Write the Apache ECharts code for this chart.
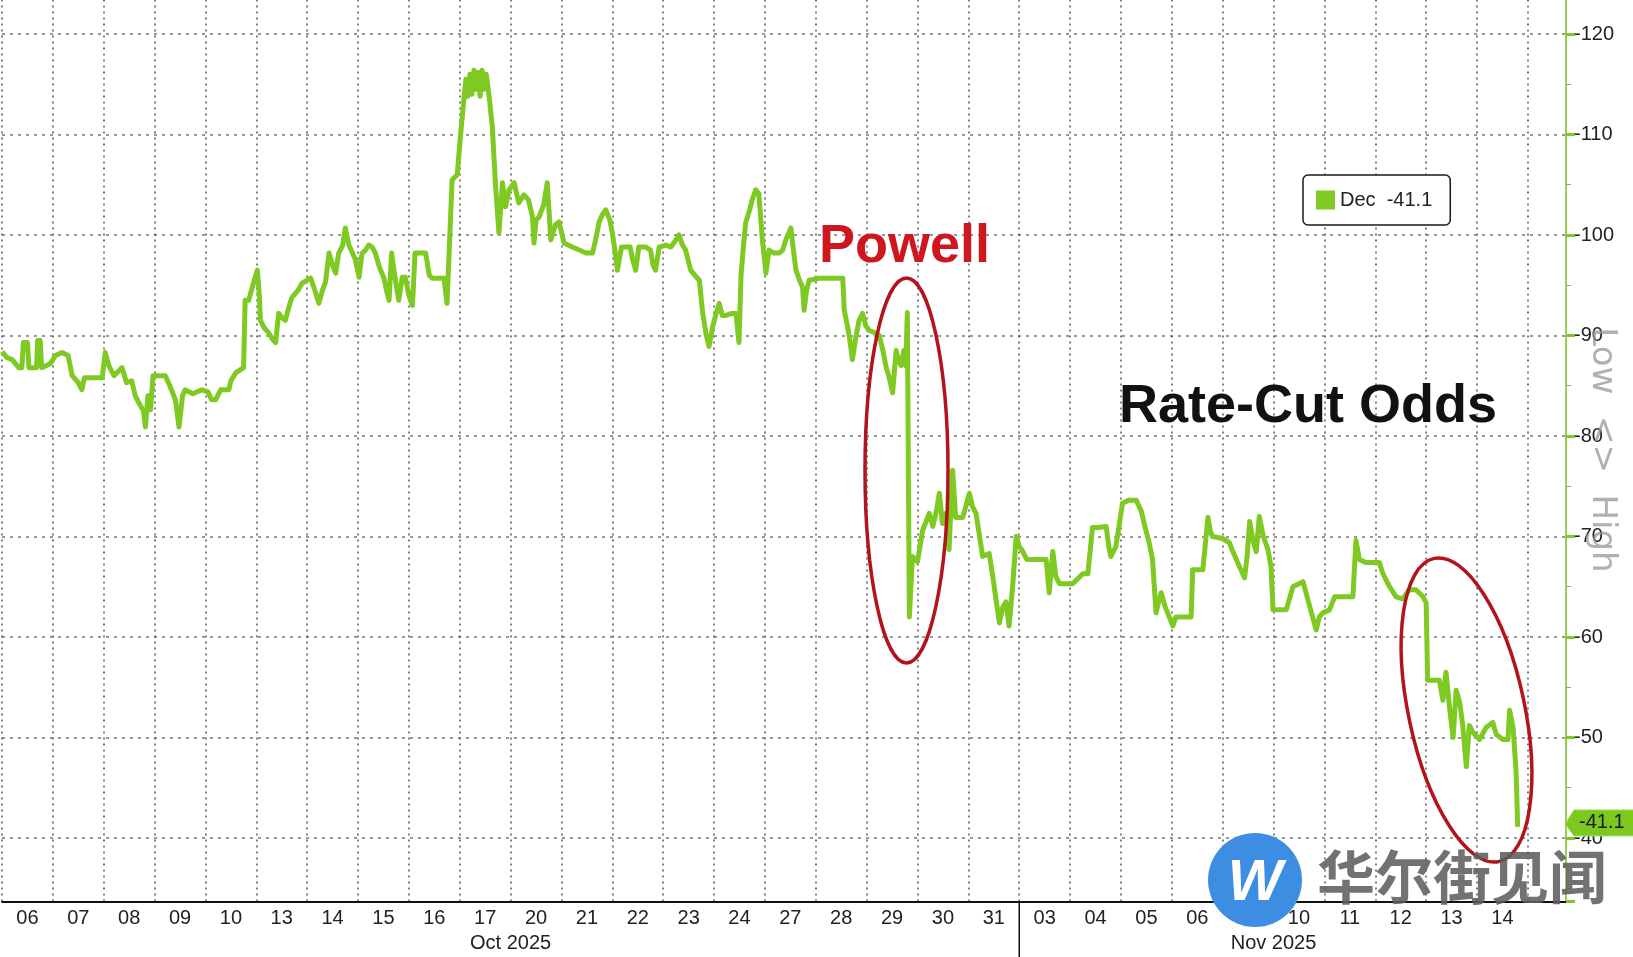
<!DOCTYPE html>
<html><head><meta charset="utf-8">
<script src="https://cdn.jsdelivr.net/npm/echarts@6/dist/echarts.min.js"></script>
<style>html,body{margin:0;padding:0;background:#fff;}#c{width:1633px;height:957px;}</style>
</head><body><div id="c"></div>
<script>
// ---- data ----
const dayLabels = ['06','07','08','09','10','13','14','15','16','17','20','21','22','23','24','27','28','29','30','31',
                   '03','04','05','06','07','10','11','12','13','14'];
const monthNames = ['Oct 2025', 'Nov 2025'];
const monthMid = [10, 25];          // trading-day position of each month label
const monthBreak = 20;              // trading-day position where November starts
const yMin = -130, yMax = -33.7, yStep = 10;
const xMax = 30.75;                 // trading days shown (incl. right padding)
const seriesName = 'Dec';
// [trading-day position, rate-cut odds]
const decOdds = [
 [0,-88.4],[0.1,-87.8],[0.2,-87.6],[0.33,-86.8],[0.39,-86.8],[0.42,-89.3],[0.5,-89.3],[0.53,-86.8],[0.68,-86.8],[0.7,-89.5],
 [0.75,-89.5],[0.78,-86.8],[0.95,-87.2],[1.05,-88],[1.18,-88.3],[1.3,-88],[1.38,-86],[1.5,-85.3],[1.57,-84.6],[1.62,-85.8],
 [1.97,-85.8],[2.03,-88.3],[2.1,-87],[2.2,-86],[2.36,-86.8],[2.45,-85.3],[2.55,-85.5],[2.62,-84],[2.69,-83.3],[2.78,-82.5],
 [2.82,-80.9],[2.87,-84],[2.92,-82.6],[2.97,-86],[3.21,-86],[3.3,-85],[3.41,-83.6],[3.48,-80.9],[3.55,-84],[3.6,-84.6],
 [3.75,-84.2],[3.93,-84.6],[4.05,-84.4],[4.12,-83.6],[4.2,-83.6],[4.3,-84.6],[4.46,-84.6],[4.5,-85.5],[4.6,-86.3],[4.66,-86.5],
 [4.75,-86.8],[4.78,-93.5],[4.85,-93.5],[4.92,-94.8],[5.02,-96.5],[5.06,-94],[5.08,-91.5],[5.15,-90.8],[5.25,-90.2],[5.32,-89.6],
 [5.38,-89.3],[5.44,-92.2],[5.5,-91.8],[5.57,-91.5],[5.65,-93],[5.7,-93.8],[5.82,-94.5],[5.9,-95.2],[6.0,-95.5],[6.07,-95.7],
 [6.15,-94.5],[6.23,-93.2],[6.3,-94.5],[6.36,-95.3],[6.43,-98.2],[6.5,-97],[6.56,-96.2],[6.62,-98.2],[6.7,-99],[6.75,-100.7],
 [6.82,-99],[6.89,-98.2],[6.95,-97.5],[7.02,-95.8],[7.08,-98.2],[7.15,-98.5],[7.21,-99],[7.28,-98.8],[7.34,-98.2],[7.42,-96.8],
 [7.51,-95.7],[7.56,-94.5],[7.61,-93.5],[7.66,-98.2],[7.72,-96],[7.8,-93.5],[7.87,-95.8],[7.93,-95.8],[8.0,-94],[8.07,-93],
 [8.12,-98.2],[8.25,-98.2],[8.33,-98.2],[8.4,-96],[8.46,-95.7],[8.69,-95.7],[8.75,-93.2],[8.79,-98.2],[8.85,-105.5],[8.95,-106],
 [9.02,-110.2],[9.08,-113.4],[9.12,-115.5],[9.16,-113.8],[9.2,-116],[9.24,-114],[9.28,-116.4],[9.32,-114.5],[9.36,-116.2],[9.4,-113.8],
 [9.44,-116.4],[9.48,-114.5],[9.52,-116],[9.57,-114.1],[9.64,-110.8],[9.7,-105.2],[9.77,-100.2],[9.84,-105.2],[9.9,-102.8],[9.97,-104.5],
 [10.07,-105.2],[10.16,-103.2],[10.26,-104],[10.35,-103.5],[10.43,-101.8],[10.46,-99.2],[10.5,-101.5],[10.56,-101.8],[10.65,-103],[10.72,-105.2],
 [10.76,-102],[10.79,-99.5],[10.88,-101],[10.95,-101.3],[11.05,-99.2],[11.21,-98.8],[11.35,-98.5],[11.48,-98.2],[11.61,-98.2],[11.67,-99.5],
 [11.74,-101.3],[11.8,-102],[11.87,-102.5],[11.95,-101.5],[12.0,-100.2],[12.05,-98.5],[12.1,-96.5],[12.18,-98.8],[12.26,-98.8],[12.35,-98.8],
 [12.4,-97.5],[12.46,-96.5],[12.52,-98.8],[12.66,-98.8],[12.75,-98.5],[12.8,-97],[12.85,-96.5],[12.92,-98.8],[13.05,-99],[13.15,-98.8],
 [13.25,-99.5],[13.31,-100],[13.38,-99],[13.44,-98.5],[13.54,-96.5],[13.62,-96],[13.71,-95.5],[13.77,-92.5],[13.84,-90.2],[13.9,-88.9],
 [13.97,-90.8],[14.03,-92],[14.1,-93.2],[14.16,-92],[14.23,-92],[14.35,-92.2],[14.43,-92.2],[14.49,-89.3],[14.53,-96],[14.58,-99],
 [14.62,-101.2],[14.7,-102.5],[14.75,-103.5],[14.82,-104.5],[14.88,-104.1],[14.92,-101.5],[14.95,-99.5],[15.02,-96.2],[15.08,-98.5],[15.18,-98.2],
 [15.28,-98.2],[15.35,-98.5],[15.41,-99.5],[15.51,-100.7],[15.56,-98.5],[15.61,-96.5],[15.68,-95.5],[15.74,-94.8],[15.77,-92.5],[15.82,-94.5],
 [15.87,-95.5],[16.07,-95.7],[16.3,-95.7],[16.53,-95.7],[16.56,-92.5],[16.62,-91],[16.66,-89.9],[16.72,-87.6],[16.79,-89.9],[16.85,-91.5],
 [16.92,-92.2],[16.98,-91],[17.05,-90.5],[17.15,-90.3],[17.25,-90],[17.32,-88.5],[17.38,-86.9],[17.44,-85.9],[17.51,-84.3],[17.58,-88.5],
 [17.63,-87.5],[17.68,-87],[17.73,-88.5],[17.77,-87],[17.8,-92.3],[17.84,-62],[17.9,-68],[18.0,-67.5],[18.1,-70.6],[18.17,-71.5],
 [18.23,-72.3],[18.3,-71],[18.37,-72.5],[18.43,-74.3],[18.49,-71.3],[18.56,-72.3],[18.62,-68.7],[18.69,-76.6],[18.75,-71.9],[18.89,-71.9],
 [18.95,-73],[19.02,-74.3],[19.08,-73],[19.15,-72.3],[19.22,-70],[19.28,-68],[19.41,-68.3],[19.48,-66],[19.55,-63.5],[19.61,-61.4],
 [19.68,-63],[19.74,-63.5],[19.8,-61.1],[19.87,-65],[19.94,-70],[20.0,-69],[20.07,-68.5],[20.15,-67.7],[20.26,-67.7],[20.53,-67.7],
 [20.59,-64.4],[20.66,-68.5],[20.72,-66],[20.79,-65.3],[21.05,-65.3],[21.15,-65.8],[21.25,-66.3],[21.35,-66.3],[21.44,-70.9],[21.55,-70.9],
 [21.71,-71],[21.76,-69],[21.8,-68],[21.9,-69],[22.03,-73.3],[22.15,-73.6],[22.3,-73.6],[22.4,-72.5],[22.49,-70.6],[22.55,-69.5],
 [22.62,-67.7],[22.69,-62.4],[22.74,-63.5],[22.79,-64.4],[22.87,-63],[22.95,-62],[23.02,-61.1],[23.08,-62],[23.15,-62],[23.38,-62],
 [23.41,-66.7],[23.61,-66.7],[23.71,-71.9],[23.76,-70.5],[23.8,-70],[24.0,-69.8],[24.13,-69.4],[24.2,-68.5],[24.33,-67],[24.43,-65.9],
 [24.48,-68],[24.53,-71.5],[24.6,-69.5],[24.66,-68.5],[24.72,-72],[24.8,-70],[24.89,-68.7],[24.95,-67],[24.99,-62.7],[25.25,-62.7],
 [25.38,-65],[25.58,-65.5],[25.74,-62.5],[25.84,-60.7],[25.9,-62],[25.97,-62.4],[26.1,-62.7],[26.2,-64],[26.43,-64],[26.56,-64],
 [26.62,-69.6],[26.69,-67.7],[26.82,-67.4],[27.08,-67.4],[27.15,-66.3],[27.28,-65],[27.41,-64],[27.54,-63.8],[27.67,-64.7],[27.8,-64.7],
 [27.94,-64],[28.0,-63.4],[28.03,-55.7],[28.15,-55.7],[28.26,-55.7],[28.33,-53.7],[28.39,-56.5],[28.46,-53],[28.53,-50],[28.59,-54.7],
 [28.66,-53.5],[28.72,-51.2],[28.79,-47.1],[28.85,-51.2],[28.92,-50.5],[29.05,-49.8],[29.18,-51],[29.31,-51.5],[29.38,-50.3],[29.51,-49.8],
 [29.61,-49.8],[29.64,-52.7],[29.71,-51],[29.77,-46.5],[29.8,-41.1]
];

// ---- chart ----
const W = 1633, H = 957;
const FONT = '"Liberation Sans", Arial, sans-serif';
const GREEN = '#7ec922';
const gridLeft = 2, gridRightEdge = 1566, gridTop = -66.5, gridBottom = 55.7;
const dayW = (gridRightEdge - gridLeft) / xMax;
const catRight = W - (gridLeft + (dayLabels.length + 1) * dayW);
const lastVal = decOdds[decOdds.length - 1][1];

const chart = echarts.init(document.getElementById('c'), null, {renderer: 'canvas'});
chart.setOption({
  animation: false,
  backgroundColor: '#fff',
  grid: [
    {left: gridLeft, right: W - gridRightEdge, top: gridTop, bottom: gridBottom, containLabel: false, outerBoundsMode: 'none'},
    {left: gridLeft, right: catRight, top: gridTop, bottom: gridBottom, containLabel: false, outerBoundsMode: 'none'}
  ],
  xAxis: [
    {
      gridIndex: 0, type: 'value', min: 0, max: xMax, interval: 1,
      axisLine: {show: true, onZero: false, lineStyle: {color: '#111', width: 2}},
      axisTick: {show: false},
      splitLine: {show: true, lineStyle: {type: [2, 4], color: '#555', width: 1.5}},
      axisLabel: {
        margin: 32, fontSize: 20, color: '#222', fontFamily: FONT, hideOverlap: false,
        formatter: v => { const i = monthMid.indexOf(v); return i >= 0 ? monthNames[i] : ''; }
      }
    },
    {
      gridIndex: 1, type: 'category', data: dayLabels.concat(['']), boundaryGap: true,
      axisLine: {show: false, onZero: false}, axisTick: {show: false}, splitLine: {show: false},
      axisLabel: {interval: 0, margin: 7, fontSize: 20, color: '#222', fontFamily: FONT}
    }
  ],
  yAxis: [
    {
      gridIndex: 0, type: 'value', inverse: true, position: 'right',
      min: yMin, max: yMax, interval: yStep,
      axisLine: {show: true, onZero: false, lineStyle: {color: '#9ccc5a', width: 2}},
      axisTick: {show: true, length: 9, lineStyle: {color: GREEN, width: 3}},
      minorTick: {show: true, splitNumber: 2, length: 5, lineStyle: {color: '#999', width: 1}},
      splitLine: {show: true, lineStyle: {type: [3, 5], color: '#777', width: 1.5}},
      axisLabel: {
        margin: 8, fontSize: 20, color: '#222', fontFamily: FONT,
        formatter: v => (Math.abs(v % yStep) < 1e-9 ? String(v) : '')
      }
    },
    {gridIndex: 1, type: 'value', show: false, axisLine: {show: false, onZero: false}}
  ],
  legend: {
    data: [{name: seriesName, icon: 'rect'}],
    left: 1303, top: 175, itemWidth: 19, itemHeight: 19,
    padding: [15, 18, 15, 13],
    backgroundColor: '#fff', borderColor: '#1a1a1a', borderWidth: 1.5, borderRadius: 5,
    formatter: n => n + '  ' + lastVal.toFixed(1),
    textStyle: {fontSize: 20, color: '#222', fontFamily: FONT}
  },
  series: [{
    name: seriesName, type: 'line', xAxisIndex: 0, yAxisIndex: 0,
    data: decOdds, showSymbol: false, symbol: 'none',
    lineStyle: {color: GREEN, width: 5, join: 'round'},
    itemStyle: {color: GREEN}, z: 3
  }]
});

// ---- annotations (positions derived from the axes where tied to data) ----
const xBreak = chart.convertToPixel({xAxisIndex: 0}, monthBreak);
const yAxisBottom = chart.convertToPixel({yAxisIndex: 0}, yMax);
const yLast = chart.convertToPixel({yAxisIndex: 0}, lastVal);
const xAxisRight = chart.convertToPixel({xAxisIndex: 0}, xMax);

chart.setOption({
  graphic: [
    {type: 'line', shape: {x1: xBreak, y1: yAxisBottom, x2: xBreak, y2: H}, style: {stroke: '#111', lineWidth: 1.5}, z: 10},
    {type: 'ellipse', shape: {cx: 906.5, cy: 470.5, rx: 41.5, ry: 192.5},
     style: {fill: 'none', stroke: '#b3141c', lineWidth: 3.5}, z: 20},
    {type: 'ellipse', x: 1466.5, y: 710, rotation: 0.21, shape: {cx: 0, cy: 0, rx: 58, ry: 155},
     style: {fill: 'none', stroke: '#b3141c', lineWidth: 3.5}, z: 20},
    {type: 'text', x: 819, y: 247, style: {text: 'Powell', fill: '#cf161e', font: 'bold 54px ' + FONT, textVerticalAlign: 'middle'}, z: 20},
    {type: 'text', x: 1119, y: 407, style: {text: 'Rate-Cut Odds', fill: '#111', font: 'bold 54px ' + FONT, textVerticalAlign: 'middle'}, z: 20},
    {type: 'text', x: 1602, y: 450, rotation: -Math.PI / 2,
     style: {text: 'Low  <>  High', fill: 'rgba(150,150,150,0.75)', font: '34px "DejaVu Sans", sans-serif', textAlign: 'center', textVerticalAlign: 'middle'}, z: 15},
    {type: 'polygon', shape: {points: [[xAxisRight - 1, yLast - 3], [xAxisRight + 8, yLast - 17], [W + 5, yLast - 17], [W + 5, yLast + 9], [xAxisRight + 8, yLast + 9]]},
     style: {fill: '#7cc81e', stroke: '#a6dc62', lineWidth: 1}, z: 30},
    {type: 'text', x: xAxisRight + 13, y: yLast - 4, style: {text: lastVal.toFixed(1), fill: '#1a1a1a', font: '20px ' + FONT, textVerticalAlign: 'middle'}, z: 31},
    // watermark
    {type: 'circle', shape: {cx: 1255, cy: 880, r: 47}, style: {fill: '#3d8ee3'}, z: 40},
    {type: 'text', x: 1255, y: 884, style: {text: 'W', fill: '#fff', font: 'italic bold 58px ' + FONT, textAlign: 'center', textVerticalAlign: 'middle'}, z: 41},
    {type: 'text', x: 1317, y: 877, style: {text: '华尔街见闻', fill: 'rgba(95,95,95,0.88)', font: 'bold 58px "Noto Sans CJK SC", sans-serif', textVerticalAlign: 'middle'}, z: 40}
  ]
});
</script></body></html>
